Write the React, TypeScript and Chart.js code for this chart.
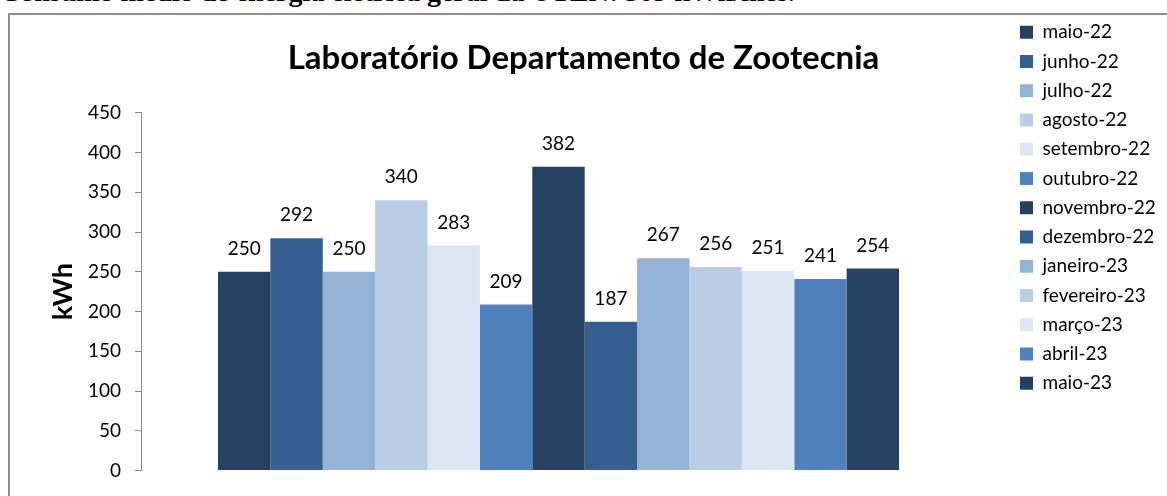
import React, { useEffect, useRef } from "react";
import { Chart, registerables } from "chart.js";

Chart.register(...registerables);

// ---- data ----
const months: string[] = [
  "maio-22", "junho-22", "julho-22", "agosto-22", "setembro-22", "outubro-22",
  "novembro-22", "dezembro-22", "janeiro-23", "fevereiro-23", "março-23", "abril-23", "maio-23",
];
const consumption: number[] = [250, 292, 250, 340, 283, 209, 382, 187, 267, 256, 251, 241, 254];
const barColors: string[] = [
  "#254061", "#365F91", "#95B3D7", "#B9CDE5", "#DCE6F2", "#4F81BD",
  "#254061", "#365F91", "#95B3D7", "#B9CDE5", "#DCE6F2", "#4F81BD", "#254061",
];
const yMin = 0;
const yMax = 450;
const yStep = 50;
const chartTitle = "Laboratório Departamento de Zootecnia";
const yAxisTitle = "kWh";
const heading = "Consumo médio de energia elétrica geral da UTEN: 303 kWh/mês.";

// ---- layout constants ----
const W = 1167;
const H = 496;
const PLOT_LEFT = 141;
const PLOT_RIGHT = 976;
const PLOT_TOP = 112.7;
const LEGEND_BOX_X = 1020;
const LEGEND_PAD = 10.25;
const LEGEND_FONT = 19;
const TICK_FONT = 19;
const TITLE_FONT = 33;
const YTITLE_FONT = 27;
const PAD_TOP = 12.5;
const PAD_BOTTOM = 23;
const TITLE_CENTER_Y = 58;
const FONT = "Lato";

const valueLabels = {
  id: "valueLabels",
  afterDatasetsDraw(chart: any) {
    const ctx = chart.ctx;
    ctx.save();
    ctx.font = `${TICK_FONT}px ${FONT}`;
    ctx.fillStyle = "#000";
    ctx.textAlign = "center";
    ctx.textBaseline = "middle";
    chart.data.datasets.forEach((ds: any, i: number) => {
      const meta = chart.getDatasetMeta(i);
      const el = meta.data[0];
      if (!el) return;
      ctx.fillText(String(ds.data[0]), el.x, el.y - 23);
    });
    ctx.restore();
  },
};

export default function App() {
  const ref = useRef<HTMLCanvasElement | null>(null);

  useEffect(() => {
    const canvas = ref.current!;
    const state = { side: 8 };
    const yTitleLH = YTITLE_FONT * 1.2;
    const titleLH = TITLE_FONT * 1.2;
    const titlePadTop = TITLE_CENTER_Y - PAD_TOP - titleLH / 2;
    const titlePadBottom = PLOT_TOP - PAD_TOP - titlePadTop - titleLH;

    const chart = new Chart(canvas, {
      type: "bar",
      data: {
        labels: [""],
        datasets: months.map((m, i) => ({
          label: m,
          data: [consumption[i]],
          backgroundColor: barColors[i],
          borderColor: barColors[i],
          borderWidth: 0,
        })),
      },
      options: {
        responsive: false,
        devicePixelRatio: 1,
        animation: false,
        categoryPercentage: 0.8156,
        barPercentage: 1,
        layout: {
          padding: { top: PAD_TOP, bottom: PAD_BOTTOM, left: state.side, right: state.side },
        },
        plugins: {
          tooltip: { enabled: false },
          title: {
            display: true,
            text: chartTitle,
            color: "#000",
            font: { family: FONT, size: TITLE_FONT, weight: "bold" },
            padding: { top: titlePadTop, bottom: titlePadBottom },
          },
          legend: {
            display: true,
            position: "right",
            align: "start",
            labels: {
              color: "#000",
              font: { family: FONT, size: LEGEND_FONT },
              boxWidth: 13,
              boxHeight: 13,
              padding: LEGEND_PAD,
            },
          },
        },
        scales: {
          x: { display: false },
          y: {
            min: yMin,
            max: yMax,
            ticks: {
              stepSize: yStep,
              color: "#000",
              font: { family: FONT, size: TICK_FONT },
              padding: 14,
            },
            grid: {
              display: true,
              drawOnChartArea: false,
              drawTicks: true,
              tickLength: 6,
              color: "#868686",
            },
            border: { display: true, color: "#868686", width: 1 },
            title: {
              display: true,
              text: yAxisTitle,
              color: "#000",
              font: { family: FONT, size: YTITLE_FONT, weight: "bold" },
              padding: { top: 63 - state.side - yTitleLH / 2, bottom: 0 },
            },
            afterFit(scale: any) {
              scale.width = PLOT_LEFT - state.side;
            },
          },
          y2: {
            type: "linear",
            position: "right",
            display: true,
            ticks: { display: false },
            grid: { display: false },
            border: { display: false },
            afterFit(scale: any) {
              scale.width = LEGEND_BOX_X - LEGEND_PAD - PLOT_RIGHT;
            },
          },
        },
      },
      plugins: [valueLabels],
    } as any);

    for (let k = 0; k < 3; k++) {
      const legend: any = (chart as any).legend;
      const dx = legend.left + LEGEND_PAD - LEGEND_BOX_X;
      if (Math.abs(dx) < 0.3) break;
      state.side = Math.max(0, state.side + dx);
      const o: any = chart.options;
      o.layout.padding = { top: PAD_TOP, bottom: PAD_BOTTOM, left: state.side, right: state.side };
      o.scales.y.title.padding = { top: 63 - state.side - yTitleLH / 2, bottom: 0 };
      chart.update();
    }

    return () => chart.destroy();
  }, []);

  return (
    <div style={{ position: "fixed", left: 0, top: 0, width: W, height: H, overflow: "hidden", background: "#fff" }}>
      <div
        style={{
          position: "absolute",
          left: 0,
          top: -22,
          whiteSpace: "nowrap",
          fontFamily: "'Liberation Serif', 'Times New Roman', serif",
          fontWeight: "bold",
          fontSize: 28,
          lineHeight: 1,
          color: "#000",
        }}
      >
        {heading}
      </div>
      <div
        style={{
          position: "absolute",
          left: 8,
          top: 13,
          width: 2000,
          height: 1000,
          border: "2px solid #8f8f8f",
        }}
      />
      <canvas ref={ref} width={W} height={H} style={{ position: "absolute", left: 0, top: 0, display: "block" }} />
    </div>
  );
}
